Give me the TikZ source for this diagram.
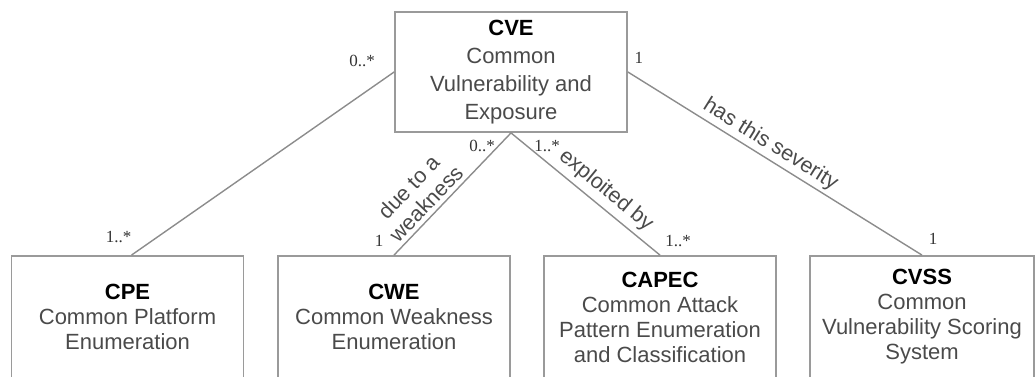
\documentclass[tikz,border=0pt]{standalone}
\usepackage{fontspec}
\setmainfont{Liberation Sans}
\newfontfamily\multfont{Liberation Serif}
\usetikzlibrary{positioning}

\definecolor{boxgray}{HTML}{9A9A9A}
\definecolor{linegray}{HTML}{8C8C8C}
\definecolor{descgray}{HTML}{4A4A4A}

\tikzset{
    box/.style={draw=boxgray, line width=1.8pt, minimum height=122, minimum width=232,
        align=center, inner sep=2pt, text=descgray, font=\fontsize{22}{25}\selectfont},
    mult/.style={font=\multfont\fontsize{17}{19}\selectfont, text=black!80, inner sep=0pt},
    rel/.style={font=\fontsize{21.5}{24}\selectfont, text=descgray, sloped, above, align=center},
    assoc/.style={draw=linegray, line width=1.4pt}
}
\newcommand{\ttl}[1]{\textcolor{black}{\textbf{#1}}}

\begin{document}
\begin{tikzpicture}[x=1pt, y=-1pt]
\useasboundingbox (0,0) rectangle (1036,376);

% Klassen
\node[box, minimum height=120, font=\fontsize{22}{28}\selectfont] (cve) at (511,72)
    {\ttl{CVE}\\Common\\Vulnerability and\\Exposure};
\node[box] (cpe)   at (127.5,317) {\ttl{CPE}\\Common Platform\\Enumeration};
\node[box] (cwe)   at (394,317)   {\ttl{CWE}\\Common Weakness\\Enumeration};
\node[box] (capec) at (660,317)   {\ttl{CAPEC}\\Common Attack\\Pattern Enumeration\\and Classification};
\node[box, minimum width=224] (cvss) at (922,317) {\ttl{CVSS}\\Common\\Vulnerability Scoring\\System};

% Assoziationen
\draw[assoc] (cve.west) -- ([xshift=4pt]cpe.north);
\draw[assoc] (cwe.north) -- node[rel, pos=0.35, inner sep=4pt] {due to a\\weakness} (cve.south);
\draw[assoc] (cve.south) -- node[rel, pos=0.57, inner sep=5pt] {exploited by} (capec.north);
\draw[assoc] (cve.east) -- node[rel, pos=0.46, inner sep=3pt] {has this severity} (cvss.north);

% Multiplizitaeten
\node[mult] (mcvecpe)   at ([xshift=-32pt, yshift=11pt]cve.west)  {0..*};
\node[mult] (mcvecvss)  at ([xshift=11pt, yshift=14pt]cve.east)   {1};
\node[mult] (mcvecwe)   at ([xshift=-29pt, yshift=-13pt]cve.south) {0..*};
\node[mult] (mcvecapec) at ([xshift=36pt, yshift=-13pt]cve.south)  {1..*};
\node[mult] (mcpe)      at ([xshift=-9pt, yshift=18pt]cpe.north)   {1..*};
\node[mult] (mcwe)      at ([xshift=-15pt, yshift=14pt]cwe.north)  {1};
\node[mult] (mcapec)    at ([xshift=18pt, yshift=14pt]capec.north) {1..*};
\node[mult] (mcvss)     at ([xshift=11pt, yshift=16pt]cvss.north)  {1};

\end{tikzpicture}
\end{document}
